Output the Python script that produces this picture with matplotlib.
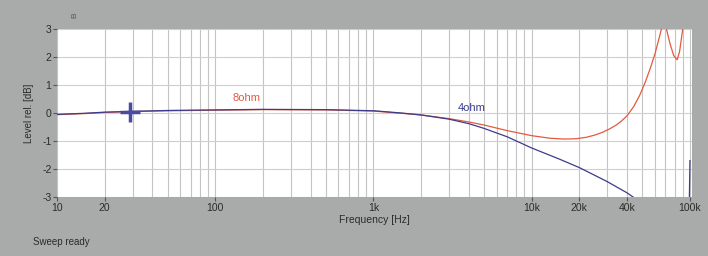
import matplotlib
matplotlib.use('Agg')
import matplotlib.pyplot as plt
import matplotlib.ticker as ticker
import numpy as np

plt.rcParams['font.family'] = ['Liberation Sans', 'DejaVu Sans']

# frequency response, 8 ohm load
freq_8 = [10, 15, 20, 30, 50, 100, 200, 500, 1000, 1500, 2000, 3000, 4000, 5000,
          7000, 10000, 13000, 16000, 19000, 22000, 25000, 28000, 31000, 34000,
          37000, 40000, 44000, 48000, 52000, 56000, 60000, 64000, 67000, 69000,
          71000, 75000, 79000, 83000, 86000, 90000, 95000]
level_8 = [-0.06, -0.02, 0.02, 0.05, 0.08, 0.1, 0.12, 0.11, 0.07, -0.01, -0.07,
           -0.2, -0.32, -0.43, -0.63, -0.81, -0.9, -0.93, -0.92, -0.87, -0.79,
           -0.69, -0.57, -0.44, -0.28, -0.1, 0.22, 0.62, 1.08, 1.58, 2.1, 2.7,
           3.15, 3.3, 3.0, 2.45, 2.05, 1.9, 2.2, 3.0, 3.8]

# frequency response, 4 ohm load
freq_4 = [10, 15, 20, 30, 50, 100, 200, 500, 1000, 1500, 2000, 3000, 4000, 5000,
          7000, 10000, 15000, 20000, 30000, 40000, 45000, 60000, 95000, 99000,
          100000]
level_4 = [-0.05, -0.01, 0.03, 0.06, 0.09, 0.11, 0.13, 0.12, 0.08, 0.0, -0.07,
           -0.22, -0.38, -0.55, -0.85, -1.25, -1.65, -1.95, -2.45, -2.85, -3.05,
           -4.0, -5.0, -3.2, -1.7]

cursor_freq = 29
cursor_level = 0.05

xticks = [10, 20, 100, 1000, 10000, 20000, 40000, 100000]
xtick_labels = ['10', '20', '100', '1k', '10k', '20k', '40k', '100k']
yticks = [3, 2, 1, 0, -1, -2, -3]

BG = '#a9abaa'
RED = '#e35a3f'
BLUE = '#3c3c8c'
TXT = '#2a2a2a'

fig = plt.figure(figsize=(7.08, 2.56), dpi=100, facecolor=BG)
ax = fig.add_axes([57 / 708, 1 - 197 / 256, (692 - 57) / 708, (197 - 29) / 256])
ax.set_facecolor('white')
ax.set_xscale('log')
ax.set_xlim(10, 103000)
ax.set_ylim(-3, 3)

ax.grid(True, which='both', axis='x', color='#c4c4c4', linewidth=0.8)
ax.grid(True, which='major', axis='y', color='#cfcfcf', linewidth=0.8)
ax.xaxis.set_minor_locator(ticker.LogLocator(base=10, subs=np.arange(2, 10)))
ax.xaxis.set_minor_formatter(ticker.NullFormatter())

ax.plot(freq_8, level_8, color=RED, linewidth=0.9, zorder=3)
ax.plot(freq_4, level_4, color=BLUE, linewidth=0.9, zorder=4)
ax.plot([cursor_freq], [cursor_level], marker='+', markersize=14,
        markeredgewidth=2.5, color='#4a4aa0', zorder=5)

ax.text(157, 0.54, '8ohm', color=RED, fontsize=8, ha='center', va='center')
ax.text(4200, 0.18, '4ohm', color=BLUE, fontsize=8, ha='center', va='center')

ax.set_xticks(xticks)
ax.set_xticklabels(xtick_labels)
ax.tick_params(axis='x', which='minor', length=0)
ax.tick_params(axis='x', which='major', length=3, color='#555555',
               labelsize=7.5, labelcolor=TXT, pad=1)
ax.set_yticks(yticks)
ax.set_yticklabels([str(v) for v in yticks])
ax.tick_params(axis='y', length=3, color='#555555', labelsize=7.5,
               labelcolor=TXT, pad=1)
for s in ax.spines.values():
    s.set_visible(False)

ax.set_xlabel('Frequency [Hz]', fontsize=7.5, color=TXT, labelpad=2)
ax.set_ylabel('Level rel. [dB]', fontsize=7, color=TXT, labelpad=6)

fig.text(33 / 708, 1 - 242 / 256, 'Sweep ready', fontsize=7, color=TXT,
         ha='left', va='center')
fig.text(75 / 708, 1 - 15 / 256, 'B', fontsize=6, color='#555555',
         rotation=90, ha='center', va='center')

fig.savefig('out.png', dpi=100, facecolor=BG)
